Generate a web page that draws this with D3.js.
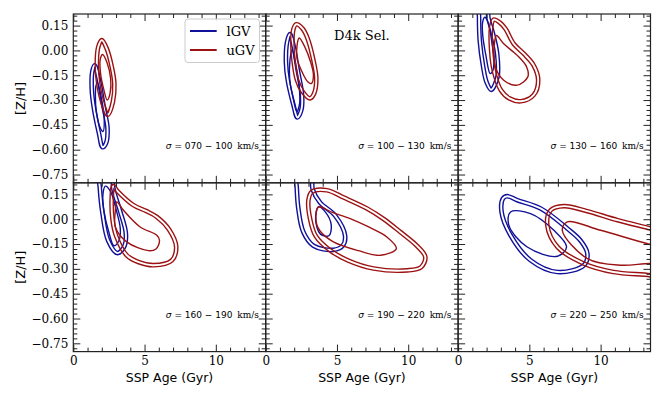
<!DOCTYPE html>
<html><head><meta charset="utf-8">
<script src="https://cdn.jsdelivr.net/npm/d3@7"></script>
<style>body{margin:0;background:#fff} svg{display:block}</style>
</head><body>
<svg id="c" width="664" height="399"></svg>
<script>
// ---------- data ----------
const sigmaBins = ["070 − 100", "100 − 130", "130 − 160", "160 − 190", "190 − 220", "220 − 250"];
const seriesNames = ["lGV", "uGV"];
const xTicks = [0, 5, 10];
const yTicks = [0.15, 0.00, -0.15, -0.30, -0.45, -0.60, -0.75];
const panelTitle = "D4k Sel.";

// contours: [SSP age (Gyr), [Z/H]]
const lgv070Outer = [[1.50,-0.09],[1.75,-0.16],[2.15,-0.35],[2.40,-0.47],[2.30,-0.56],[2.05,-0.585],[1.80,-0.50],[1.45,-0.35],[1.30,-0.24],[1.33,-0.13]];
const lgv070Inner = [[1.70,-0.195],[1.95,-0.28],[2.17,-0.41],[2.08,-0.49],[1.90,-0.47],[1.62,-0.37],[1.55,-0.28],[1.60,-0.21]];
const ugv070Outer = [[2.00,0.062],[2.35,0.01],[2.70,-0.10],[2.88,-0.20],[2.78,-0.31],[2.42,-0.39],[2.10,-0.33],[1.75,-0.20],[1.65,-0.08],[1.75,0.02]];
const ugv070Inner = [[2.05,-0.025],[2.35,-0.07],[2.62,-0.17],[2.58,-0.26],[2.38,-0.30],[2.15,-0.24],[1.90,-0.13],[1.90,-0.05]];

const lgv100Outer = [[1.70,0.098],[1.95,0.03],[2.25,-0.12],[2.55,-0.27],[2.50,-0.36],[2.22,-0.405],[1.95,-0.33],[1.55,-0.18],[1.42,-0.07],[1.50,0.05]];
const lgv100Inner = [[1.85,0.005],[2.05,-0.06],[2.35,-0.22],[2.38,-0.32],[2.18,-0.37],[1.95,-0.30],[1.68,-0.17],[1.70,-0.06]];
const ugv100Outer = [[2.15,0.158],[2.60,0.13],[2.95,0.07],[3.35,-0.06],[3.55,-0.17],[3.40,-0.26],[3.10,-0.29],[2.60,-0.25],[2.20,-0.18],[1.95,-0.06],[1.87,0.05],[1.95,0.13]];
const ugv100Inner = [[2.35,0.075],[2.75,0.02],[3.15,-0.07],[3.35,-0.15],[3.20,-0.20],[2.95,-0.19],[2.55,-0.13],[2.20,-0.05],[2.20,0.03]];

const lgv130Outer = [[1.50,0.30],[2.05,0.30],[2.12,0.20],[2.45,0.10],[2.74,-0.02],[2.76,-0.16],[2.32,-0.238],[1.99,-0.19],[1.76,-0.10],[1.52,0.06],[1.47,0.20]];
const lgv130Inner = [[1.87,0.20],[2.10,0.17],[2.40,0.03],[2.52,-0.05],[2.40,-0.13],[2.25,-0.14],[1.95,-0.03],[1.72,0.10],[1.72,0.17]];
const ugv130Outer = [[2.50,0.186],[2.90,0.17],[3.33,0.13],[3.90,0.04],[4.61,-0.02],[5.30,-0.09],[5.62,-0.18],[5.30,-0.27],[4.40,-0.307],[3.60,-0.29],[3.00,-0.24],[2.50,-0.12],[2.32,0.00],[2.32,0.14]];
const ugv130Inner = [[2.69,0.09],[3.20,0.04],[4.15,-0.03],[4.81,-0.10],[4.89,-0.16],[4.15,-0.21],[3.20,-0.18],[2.62,-0.10],[2.55,0.04]];

const lgv160Outer = [[1.82,0.30],[2.72,0.30],[2.80,0.19],[3.28,0.05],[3.68,-0.08],[3.60,-0.16],[3.10,-0.205],[2.45,-0.13],[2.05,0.035],[1.86,0.19]];
const lgv160Inner = [[2.25,0.20],[2.60,0.17],[3.00,0.06],[3.30,-0.06],[3.20,-0.13],[2.85,-0.16],[2.50,-0.08],[2.15,0.05],[2.08,0.15]];
const ugv160Outer = [[2.81,0.20],[3.10,0.17],[4.22,0.085],[5.10,0.05],[5.86,0.014],[6.70,-0.06],[7.22,-0.167],[6.90,-0.25],[5.63,-0.278],[4.60,-0.26],[3.75,-0.218],[3.00,-0.10],[2.75,0.00],[2.70,0.135]];
const ugv160Inner = [[3.05,0.105],[3.52,0.054],[4.69,-0.047],[5.86,-0.097],[6.05,-0.127],[5.80,-0.18],[5.27,-0.19],[3.75,-0.137],[2.95,-0.047],[2.95,0.05]];

const lgv190Outer = [[2.15,0.30],[3.15,0.30],[3.30,0.18],[3.82,0.10],[4.87,0.022],[5.57,-0.10],[5.40,-0.16],[4.75,-0.185],[3.35,-0.16],[2.64,-0.077],[2.29,0.065],[2.18,0.19]];
const lgv190Inner = [[3.71,0.074],[4.18,0.044],[4.60,-0.036],[4.43,-0.10],[3.84,-0.09],[3.50,0.00]];
const ugv190Outer = [[3.00,0.115],[3.23,0.165],[4.29,0.175],[5.50,0.13],[7.10,0.065],[8.30,0.00],[9.44,-0.077],[10.60,-0.16],[11.20,-0.228],[10.90,-0.29],[9.93,-0.309],[7.57,-0.298],[5.80,-0.25],[4.52,-0.188],[3.50,-0.10],[3.11,0.004]];
const ugv190Inner = [[3.70,0.074],[4.70,0.04],[5.93,0.004],[7.30,-0.05],[8.50,-0.107],[9.17,-0.177],[8.06,-0.218],[6.50,-0.19],[4.75,-0.137],[3.80,-0.07],[3.54,-0.016]];

const lgv220Outer = [[3.45,0.139],[4.15,0.115],[5.79,0.065],[7.66,-0.056],[8.60,-0.13],[9.07,-0.207],[8.83,-0.278],[6.97,-0.319],[5.08,-0.248],[3.68,-0.097],[3.05,0.044],[3.15,0.125]];
const lgv220Inner = [[3.68,0.044],[5.08,0.034],[6.72,-0.067],[7.61,-0.168],[6.97,-0.224],[4.85,-0.168],[3.56,-0.036]];
const ugv220Outer = [[6.49,0.054],[7.43,0.079],[9.00,0.05],[11.20,-0.006],[13.50,-0.056],[15.0,-0.09],[15.0,-0.36],[13.50,-0.339],[10.90,-0.319],[8.83,-0.268],[7.00,-0.17],[6.26,-0.036]];
const ugv220Inner = [[7.66,-0.016],[10.0,-0.067],[13.5,-0.153],[15.0,-0.18],[15.0,-0.28],[13.5,-0.268],[11.4,-0.278],[9.07,-0.238],[7.31,-0.067]];

const panelContours = [
  {lOut: lgv070Outer, lIn: lgv070Inner, uOut: ugv070Outer, uIn: ugv070Inner},
  {lOut: lgv100Outer, lIn: lgv100Inner, uOut: ugv100Outer, uIn: ugv100Inner},
  {lOut: lgv130Outer, lIn: lgv130Inner, uOut: ugv130Outer, uIn: ugv130Inner},
  {lOut: lgv160Outer, lIn: lgv160Inner, uOut: ugv160Outer, uIn: ugv160Inner},
  {lOut: lgv190Outer, lIn: lgv190Inner, uOut: ugv190Outer, uIn: ugv190Inner},
  {lOut: lgv220Outer, lIn: lgv220Inner, uOut: ugv220Outer, uIn: ugv220Inner}
];

// ---------- drawing ----------
const W = 664, H = 399;
const LEFT = 73.3, TOP = 14, PW = 192.4, PH = 168.8;
const BLUE = "#10109a", RED = "#9c1212";
const LW = 1.4, GAP = 1.9;
const serif = "'DejaVu Serif', serif", sans = "'DejaVu Sans', sans-serif";
const svg = d3.select("#c");
const defs = svg.append("defs");
let maskId = 0;

function drawDouble(g, d, color) {
  const id = "m" + (maskId++);
  const m = defs.append("mask").attr("id", id).attr("maskUnits", "userSpaceOnUse")
    .attr("x", 0).attr("y", 0).attr("width", W).attr("height", H);
  m.append("rect").attr("width", W).attr("height", H).attr("fill", "white");
  m.append("path").attr("d", d).attr("fill", "none").attr("stroke", "black").attr("stroke-width", GAP);
  g.append("path").attr("d", d).attr("fill", "none").attr("stroke", color)
    .attr("stroke-width", GAP + 2 * LW).attr("mask", `url(#${id})`);
}

const fmt = d3.format(".2f");
const yMinor = d3.range(-26, 8).filter(k => k % 5 !== 0).map(k => k * 0.03);
const xMinor = d3.range(1, 14).filter(k => k % 5 !== 0);

panelContours.forEach((pc, i) => {
  const col = i % 3, row = Math.floor(i / 3);
  const x0 = LEFT + col * PW, y0 = TOP + row * PH;
  const x = d3.scaleLinear().domain([0, 13.5]).range([x0, x0 + PW]);
  const y = d3.scaleLinear().domain([-0.8, 0.22]).range([y0 + PH, y0]);

  defs.append("clipPath").attr("id", "clip" + i).append("rect")
    .attr("x", x0).attr("y", y0).attr("width", PW).attr("height", PH);
  const g = svg.append("g").attr("clip-path", `url(#clip${i})`);
  const line = d3.line().x(d => x(d[0])).y(d => y(d[1])).curve(d3.curveCatmullRomClosed.alpha(0.5));

  drawDouble(g, line(pc.lOut), BLUE);
  g.append("path").attr("d", line(pc.lIn)).attr("fill", "none").attr("stroke", BLUE).attr("stroke-width", LW);
  drawDouble(g, line(pc.uOut), RED);
  g.append("path").attr("d", line(pc.uIn)).attr("fill", "none").attr("stroke", RED).attr("stroke-width", LW);

  // axes (inward ticks on all sides)
  const ax = svg.append("g");
  const mk = (gen, tr, vals, size, labels, pad) => {
    const a = gen.tickValues(vals).tickSizeInner(-size).tickSizeOuter(0).tickPadding(pad)
      .tickFormat(labels ? labels : () => "");
    const s = ax.append("g").attr("transform", tr).call(a);
    s.select(".domain").remove();
    s.selectAll(".tick line").attr("stroke", "#222").attr("stroke-width", 1);
    s.selectAll("text").attr("font-family", serif).attr("font-size", 12).attr("fill", "#000");
    return s;
  };
  mk(d3.axisLeft(y), `translate(${x0},0)`, yTicks, 7, col === 0 ? (d => fmt(d)) : null, 5);
  mk(d3.axisLeft(y), `translate(${x0},0)`, yMinor, 4, null, 5);
  mk(d3.axisRight(y), `translate(${x0 + PW},0)`, yTicks, 7, null, 5);
  mk(d3.axisRight(y), `translate(${x0 + PW},0)`, yMinor, 4, null, 5);
  mk(d3.axisBottom(x), `translate(0,${y0 + PH})`, xTicks, 7, row === 1 ? (d => d) : null, 5);
  mk(d3.axisBottom(x), `translate(0,${y0 + PH})`, xMinor, 4, null, 5);
  mk(d3.axisTop(x), `translate(0,${y0})`, xTicks, 7, null, 5);
  mk(d3.axisTop(x), `translate(0,${y0})`, xMinor, 4, null, 5);

  ax.append("rect").attr("x", x0).attr("y", y0).attr("width", PW).attr("height", PH)
    .attr("fill", "none").attr("stroke", "#222").attr("stroke-width", 1.2);

  // sigma annotation
  const t = svg.append("text").attr("x", x0 + 92.5).attr("y", y0 + PH - 34)
    .attr("font-size", 9).attr("fill", "#000").attr("font-family", sans);
  t.append("tspan").attr("font-style", "italic").text("σ");
  t.append("tspan").text(" = " + sigmaBins[i] + " ");
  t.append("tspan").attr("font-family", serif).attr("dx", 2).text("km/s");

  if (col === 0) {
    svg.append("text").attr("transform", `translate(20,${y0 + PH / 2}) rotate(-90)`)
      .attr("text-anchor", "middle").attr("dy", "0.35em")
      .attr("font-family", sans).attr("font-size", 13).text("[Z/H]");
  }
  if (row === 1) {
    svg.append("text").attr("x", x0 + PW / 2).attr("y", 381.5).attr("text-anchor", "middle")
      .attr("font-family", sans).attr("font-size", 12.5).text("SSP Age (Gyr)");
  }
  if (i === 1) {
    svg.append("text").attr("x", x0 + PW / 2).attr("y", 40).attr("text-anchor", "middle")
      .attr("font-family", serif).attr("font-size", 13).text(panelTitle);
  }
  if (i === 0) {
    const lg = svg.append("g");
    lg.append("rect").attr("x", 185).attr("y", 19).attr("width", 74.5).attr("height", 43.5)
      .attr("rx", 3).attr("fill", "white").attr("fill-opacity", 0.85)
      .attr("stroke", "#cccccc").attr("stroke-width", 1);
    [BLUE, RED].forEach((c, k) => {
      const yy = 31 + k * 19;
      lg.append("line").attr("x1", 190).attr("x2", 216.7).attr("y1", yy).attr("y2", yy)
        .attr("stroke", c).attr("stroke-width", 2);
      lg.append("text").attr("x", 226.5).attr("y", yy + 4.6)
        .attr("font-family", serif).attr("font-size", 13).text(seriesNames[k]);
    });
  }
});
</script>
</body></html>
